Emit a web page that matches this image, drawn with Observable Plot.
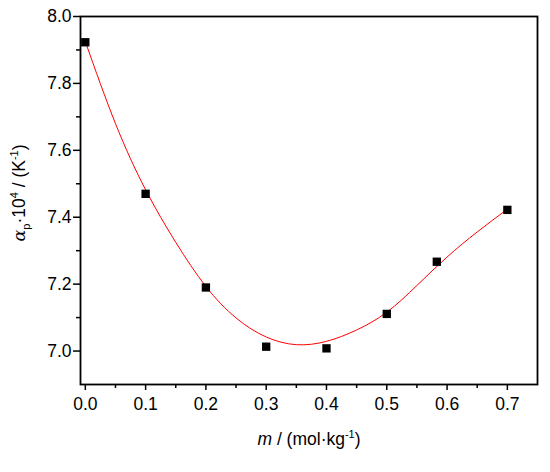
<!DOCTYPE html>
<html>
<head>
<meta charset="utf-8">
<script src="https://cdn.jsdelivr.net/npm/d3@7"></script>
<script src="https://cdn.jsdelivr.net/npm/@observablehq/plot@0.6"></script>
<style>
  html, body { margin: 0; padding: 0; background: white; }
</style>
</head>
<body>
<script>
// Measured points
const mValues = [0.0, 0.1, 0.2, 0.3, 0.4, 0.5, 0.583, 0.7];
const alphaValues = [7.923, 7.470, 7.190, 7.013, 7.008, 7.111, 7.267, 7.422];

// Fitted curve
const fitM = [0.00, 0.05, 0.10, 0.15, 0.20, 0.25, 0.30, 0.35, 0.40, 0.45, 0.50, 0.55, 0.60, 0.65, 0.70];
const fitAlpha = [7.925, 7.680, 7.482, 7.325, 7.193, 7.099, 7.042, 7.019, 7.029, 7.063, 7.116, 7.196, 7.281, 7.356, 7.424];

// Ticks
const xTicks = [0.0, 0.1, 0.2, 0.3, 0.4, 0.5, 0.6, 0.7];
const xMinor = [0.05, 0.15, 0.25, 0.35, 0.45, 0.55, 0.65];
const yTicks = [7.0, 7.2, 7.4, 7.6, 7.8, 8.0];
const yMinor = [7.1, 7.3, 7.5, 7.7, 7.9];

const points = mValues.map((m, i) => ({m, a: alphaValues[i]}));
const fit = fitM.map((m, i) => ({m, a: fitAlpha[i]}));

const font = "'Liberation Sans', Arial, sans-serif";

const chart = Plot.plot({
  width: 550,
  height: 472,
  marginLeft: 80,
  marginRight: 13,
  marginTop: 16,
  marginBottom: 88,
  x: {domain: [-0.008, 0.75]},
  y: {domain: [6.9, 8.0]},
  style: {fontFamily: font, fontSize: "17.5px", color: "black", background: "white"},
  marks: [
    Plot.axisY(yTicks, {tickSize: 7, tickPadding: 2, strokeWidth: 1.5, fontSize: 17.5, tickFormat: d => d.toFixed(1), label: null}),
    Plot.axisY(yMinor, {tickSize: 4, strokeWidth: 1.5, tickFormat: () => "", label: null}),
    Plot.axisX(xTicks, {tickSize: 6, tickPadding: 7, strokeWidth: 1.5, fontSize: 17.5, tickFormat: d => d.toFixed(1), label: null}),
    Plot.axisX(xMinor, {tickSize: 4, strokeWidth: 1.5, tickFormat: () => "", label: null}),
    Plot.line(fit, {x: "m", y: "a", curve: "natural", stroke: "#ff0000", strokeWidth: 1}),
    Plot.dot(points, {x: "m", y: "a", symbol: "square", r: 4.7, fill: "black", stroke: "none"}),
    Plot.frame({stroke: "black", strokeWidth: 1.8})
  ]
});

document.body.appendChild(chart);

const svg = d3.select(chart);
svg.selectAll('g[aria-label$="tick label"]').style("font-size", "17.5px").style("font-family", font);

// X axis label
const xl = svg.append("text")
  .attr("x", 309).attr("y", 445)
  .attr("text-anchor", "middle")
  .style("font-family", font).style("font-size", "17.5px").attr("fill", "black");
xl.append("tspan").attr("font-style", "italic").text("m");
xl.append("tspan").text(" / (mol·kg");
xl.append("tspan").style("font-size", "11px").attr("dy", "-7").text("-1");
xl.append("tspan").attr("dy", "7").text(")");

// Y axis label
const yl = svg.append("text")
  .attr("transform", "translate(25,193) rotate(-90)")
  .attr("text-anchor", "middle")
  .style("font-family", font).style("font-size", "17.5px").attr("fill", "black");
yl.append("tspan").attr("font-style", "italic").style("font-family", "'DejaVu Serif', serif").text("α");
yl.append("tspan").style("font-size", "11px").attr("dy", "5").text("p");
yl.append("tspan").attr("dy", "-5").text("·10");
yl.append("tspan").style("font-size", "11px").attr("dy", "-7").text("4");
yl.append("tspan").attr("dy", "7").text(" / (K");
yl.append("tspan").style("font-size", "11px").attr("dy", "-7").text("-1");
yl.append("tspan").attr("dy", "7").text(")");
</script>
</body>
</html>
